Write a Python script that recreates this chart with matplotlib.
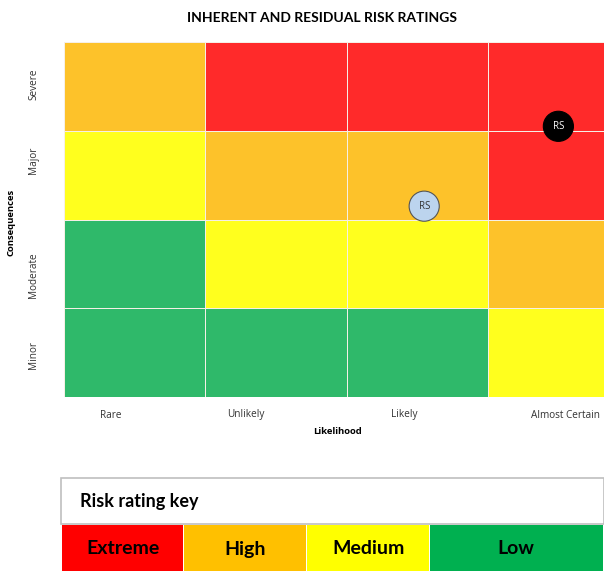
import numpy as np
import matplotlib
matplotlib.use('Agg')
import matplotlib.pyplot as plt
from matplotlib.colors import ListedColormap
from matplotlib.patches import Rectangle

# --- data ---
likelihood = ['Rare', 'Unlikely', 'Likely', 'Almost Certain']
consequences = ['Minor', 'Moderate', 'Major', 'Severe']   # bottom -> top
# 0 = Low, 1 = Medium, 2 = High, 3 = Extreme
ratings = np.array([
    [0, 0, 0, 1],   # Minor
    [0, 1, 1, 2],   # Moderate
    [1, 2, 2, 3],   # Major
    [2, 3, 3, 3],   # Severe
])
matrix_colors = ['#2fb96a', '#ffff1e', '#fdc22a', '#ff2a2a']

markers_x = [3.5, 2.55]
markers_y = [3.05, 2.15]
marker_labels = ['RS', 'RS']
marker_face = ['black', '#bcd4ee']
marker_text = ['white', '#333333']

key_labels = ['Extreme', 'High', 'Medium', 'Low']
key_colors = ['#ff0000', '#ffc000', '#ffff00', '#00b050']

plt.rcParams['font.family'] = ['Open Sans', 'DejaVu Sans']

W, H = 604, 571
fig = plt.figure(figsize=(W / 100, H / 100), dpi=100)

# --- risk matrix ---
ax = fig.add_axes([64 / W, 1 - 397 / H, 565 / W, 355 / H])
ax.pcolormesh(np.arange(5), np.arange(5), ratings,
              cmap=ListedColormap(matrix_colors), vmin=-0.5, vmax=3.5,
              edgecolors='#f6efe6', linewidth=0.4)
ax.set_xlim(0, 4)
ax.set_ylim(0, 4)
for s in ax.spines.values():
    s.set_visible(False)

ax.set_xticks([0.33, 1.29, 2.41, 3.55])
ax.set_xticklabels(likelihood, fontsize=7.2, color='#333333')
ax.set_yticks([0.47, 1.37, 2.67, 3.52])
ax.set_yticklabels(consequences, fontsize=7.2, color='#333333',
                   rotation=90, va='center')
ax.tick_params(length=0, pad=9)
ax.tick_params(axis='y', pad=18)
ax.set_xlabel('Likelihood', fontsize=6.8, fontweight='bold')
ax.xaxis.set_label_coords((338 - 64) / 565, -0.085)
ax.set_ylabel('Consequences', fontsize=6.8, fontweight='bold')
ax.yaxis.set_label_coords(-48 / 565, (397 - 222) / 355)

ax.scatter(markers_x, markers_y, s=470, c=marker_face,
           edgecolors=['black', '#555555'], linewidths=0.8, zorder=3)
for x, y, t, c in zip(markers_x, markers_y, marker_labels, marker_text):
    ax.text(x, y, t, ha='center', va='center', fontsize=7, color=c, zorder=4)

fig.text(322 / W, 1 - 18 / H, 'INHERENT AND RESIDUAL RISK RATINGS',
         ha='center', va='center', fontsize=10, fontweight='bold',
         family=['Lato', 'DejaVu Sans'])

# --- risk rating key ---
kax = fig.add_axes([0, 0, 1, 1], facecolor='none')
kax.set_xlim(0, W)
kax.set_ylim(H, 0)
kax.axis('off')
kax.add_patch(Rectangle((61, 478), W - 61, 46, facecolor='white',
                        edgecolor='#bfbfbf', linewidth=1.2))
kax.text(80, 501, 'Risk rating key', ha='left', va='center',
         fontsize=13, fontweight='bold', family=['Lato', 'DejaVu Sans'])
edges = [62, 184, 307, 430, W]
for i, (lab, col) in enumerate(zip(key_labels, key_colors)):
    x0, x1 = edges[i], edges[i + 1]
    kax.add_patch(Rectangle((x0, 525), x1 - x0 - 1, H - 525,
                            facecolor=col, edgecolor='none'))
    cx = (x0 + x1) / 2 if i < 3 else 516
    kax.text(cx, 549, lab, ha='center', va='center', fontsize=14,
             fontweight='bold', family=['Lato', 'DejaVu Sans'])

fig.savefig('out.png', dpi=100)
